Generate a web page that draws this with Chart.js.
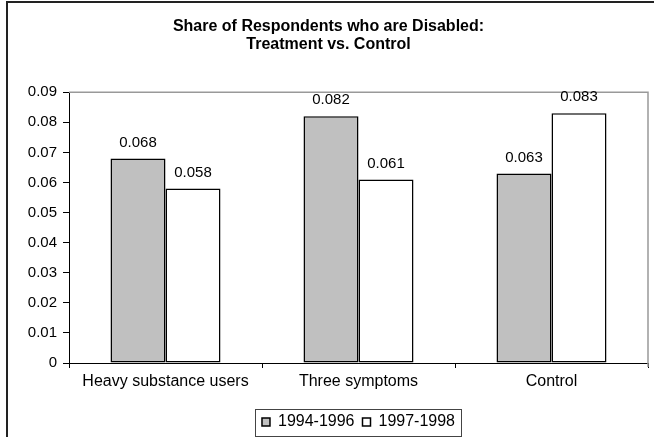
<!DOCTYPE html>
<html>
<head>
<meta charset="utf-8">
<script src="https://cdn.jsdelivr.net/npm/chart.js@4/dist/chart.umd.min.js"></script>
<style>
  html, body { margin: 0; padding: 0; background: #fff; }
  #wrap { width: 654px; height: 437px; }
</style>
</head>
<body>
<div id="wrap"><canvas id="c" width="654" height="437"></canvas></div>
<script>
// Chart data
const categories = ['Heavy substance users', 'Three symptoms', 'Control'];
const seriesNames = ['1994-1996', '1997-1998'];
const period1 = [0.068, 0.082, 0.063];
const period2 = [0.058, 0.061, 0.083];
const yTicks = [0, 0.01, 0.02, 0.03, 0.04, 0.05, 0.06, 0.07, 0.08, 0.09];
const titleLines = ['Share of Respondents who are Disabled:', 'Treatment vs. Control'];

const FONT = "'Liberation Sans', Arial, Helvetica, sans-serif";
Chart.defaults.font.family = FONT;
Chart.defaults.font.size = 15;
Chart.defaults.color = '#000';

// Legend sits centred under the plot area rather than the whole canvas
const legendPlacement = {
  id: 'legendPlacement',
  beforeInit(chart) {
    const lg = chart.legend;
    const fit = lg.fit;
    lg.fit = function () {
      fit.call(this);
      this.height -= 3;
    };
  },
  afterLayout(chart) {
    const lg = chart.legend;
    const a = chart.chartArea;
    const shift = (a.left + a.right) / 2 - (lg.left + lg.right) / 2;
    lg.left += shift;
    lg.right += shift;
  }
};

// Frame around the whole chart, plot-area edges, legend box and value labels
const decorations = {
  id: 'decorations',
  beforeDatasetsDraw(chart) {
    const { ctx, chartArea: a } = chart;
    ctx.save();
    ctx.strokeStyle = '#999';
    ctx.lineWidth = 1.5;
    ctx.beginPath();
    ctx.moveTo(a.left, a.top);
    ctx.lineTo(a.right, a.top);
    ctx.lineTo(a.right, a.bottom + 4);
    ctx.stroke();
    ctx.restore();
  },
  afterDatasetsDraw(chart) {
    const { ctx } = chart;
    ctx.save();
    ctx.fillStyle = '#000';
    ctx.font = '15px ' + FONT;
    ctx.textAlign = 'center';
    ctx.textBaseline = 'middle';
    chart.data.datasets.forEach((ds, di) => {
      chart.getDatasetMeta(di).data.forEach((bar, i) => {
        ctx.fillText(String(ds.data[i]), bar.x, bar.y - 16);
      });
    });
    ctx.restore();
  },
  afterDraw(chart) {
    const { ctx } = chart;
    ctx.save();
    // outer chart frame
    ctx.strokeStyle = '#222';
    ctx.lineWidth = 2;
    ctx.beginPath();
    ctx.moveTo(7, 437);
    ctx.lineTo(7, 2);
    ctx.lineTo(654, 2);
    ctx.stroke();
    // legend frame
    const boxes = chart.legend.legendHitBoxes;
    if (boxes && boxes.length) {
      const first = boxes[0], last = boxes[boxes.length - 1];
      const cy = first.top + first.height / 2;
      const x0 = Math.round(first.left - 7) + 0.5;
      const x1 = Math.round(last.left + last.width + 6) + 0.5;
      ctx.strokeStyle = '#444';
      ctx.lineWidth = 1;
      ctx.strokeRect(x0, Math.round(cy - 13.5) + 0.5, x1 - x0, 27);
    }
    ctx.restore();
  }
};

new Chart(document.getElementById('c'), {
  type: 'bar',
  data: {
    labels: categories,
    datasets: [
      {
        label: seriesNames[0],
        data: period1,
        backgroundColor: '#C0C0C0',
        borderColor: '#000',
        borderWidth: 1.5,
        borderSkipped: false,
        categoryPercentage: 0.57,
        barPercentage: 1.0
      },
      {
        label: seriesNames[1],
        data: period2,
        backgroundColor: '#FFFFFF',
        borderColor: '#000',
        borderWidth: 1.5,
        borderSkipped: false,
        categoryPercentage: 0.57,
        barPercentage: 1.0
      }
    ]
  },
  options: {
    responsive: false,
    animation: false,
    events: [],
    layout: { padding: { left: 9, right: 6, top: 0, bottom: 0 } },
    plugins: {
      title: {
        display: true,
        text: titleLines,
        color: '#000',
        font: { family: FONT, size: 16, weight: 'bold', lineHeight: 1.1 },
        padding: { top: 18, bottom: 39 }
      },
      legend: {
        display: true,
        position: 'bottom',
        labels: {
          boxWidth: 8,
          boxHeight: 8,
          padding: 8,
          color: '#000',
          font: { family: FONT, size: 16 }
        }
      },
      tooltip: { enabled: false }
    },
    scales: {
      x: {
        type: 'category',
        grid: { display: true, offset: true, drawOnChartArea: false, drawTicks: true, tickLength: 5, color: '#000' },
        border: { display: true, color: '#000', width: 1 },
        ticks: { color: '#000', font: { family: FONT, size: 16 }, padding: 4, maxRotation: 0, autoSkip: false },
        afterFit(s) { s.height = 43; }
      },
      y: {
        min: 0,
        max: 0.09,
        grid: { display: true, drawOnChartArea: false, drawTicks: true, tickLength: 6, color: '#000' },
        border: { display: true, color: '#000', width: 1 },
        afterBuildTicks(s) { s.ticks = yTicks.map(v => ({ value: v })); },
        ticks: {
          color: '#000',
          font: { family: FONT, size: 15 },
          padding: 6,
          callback: (v) => (v === 0 ? '0' : v.toFixed(2))
        },
        afterFit(s) { s.width = 60; }
      }
    }
  },
  plugins: [legendPlacement, decorations]
});
</script>
</body>
</html>
